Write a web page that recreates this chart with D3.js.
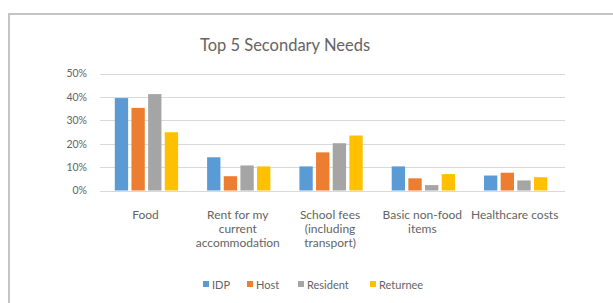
<!DOCTYPE html>
<html><head><meta charset="utf-8">
<script src="https://cdn.jsdelivr.net/npm/d3@7"></script>
<style>body{margin:0;background:#fff}svg{display:block}text{font-family:Lato,"Open Sans",sans-serif;fill:#646464}</style>
</head><body><svg id="c" width="613" height="303"></svg>
<script>
const categories = [["Food"],["Rent for my","current","accommodation"],["School fees","(including","transport)"],["Basic non-food","items"],["Healthcare costs"]];
const series = ["IDP","Host","Resident","Returnee"];
const colors = ["#5B9BD5","#ED7D31","#A5A5A5","#FFC000"];
const IDP = [39.5, 14.2, 10.3, 10.3, 6.4];
const Host = [35.3, 6.1, 16.3, 5.2, 7.6];
const Resident = [41.2, 10.7, 20.2, 2.3, 4.3];
const Returnee = [24.9, 10.3, 23.5, 7.0, 5.7];
const yTicks = [0,10,20,30,40,50];
const values = [IDP, Host, Resident, Returnee];

const svg = d3.select("#c");
// frame
svg.append("path").attr("d","M9,303 V14 H613").attr("fill","none").attr("stroke","#c4c4c4").attr("stroke-width",2);

const x0 = d3.scaleBand().domain(d3.range(categories.length)).range([100.3,561.8]).paddingInner(0).paddingOuter(0);
const x1 = d3.scaleBand().domain(series).range([14.5, 77.8]).paddingInner(0.2);
const y = d3.scaleLinear().domain([0,50]).range([190.5,73.5]);

// gridlines
svg.append("g").selectAll("line").data(yTicks).join("line")
  .attr("x1",100).attr("x2",565).attr("y1",d=>Math.round(y(d))+0.5).attr("y2",d=>Math.round(y(d))+0.5)
  .attr("stroke","#d9d9d9").attr("stroke-width",1);

// y labels
const yAxis = d3.axisLeft(y).tickValues(yTicks).tickFormat(d=>d+"%").tickSize(0).tickPadding(0);
const ya = svg.append("g").attr("transform","translate(87,0)").call(yAxis);
ya.select(".domain").remove();
ya.selectAll("text").style("font-size","10.5px").style("fill","#646464").style("font-family","Lato,sans-serif");

// bars
const g = svg.append("g");
categories.forEach((c,i)=>{
  series.forEach((s,j)=>{
    g.append("rect").attr("x",x0(i)+x1(s)).attr("width",x1.bandwidth())
      .attr("y",y(values[j][i])).attr("height",y(0)-y(values[j][i])).attr("fill",colors[j]);
  });
});

// category labels
categories.forEach((lines,i)=>{
  const t = svg.append("text").attr("text-anchor","middle").style("font-size","12px");
  lines.forEach((l,k)=>{
    t.append("tspan").attr("x",x0(i)+x0.bandwidth()/2 - 1).attr("y",219+k*14).text(l);
  });
});

// title
svg.append("text").attr("x",285).attr("y",51).attr("text-anchor","middle").style("font-size","16.5px").text("Top 5 Secondary Needs");

// legend
const legX = [203,247,298,370];
series.forEach((s,j)=>{
  svg.append("rect").attr("x",legX[j]).attr("y",281).attr("width",6).attr("height",6).attr("fill",colors[j]);
  svg.append("text").attr("x",legX[j]+9).attr("y",289).style("font-size","11px").text(s);
});
</script></body></html>
